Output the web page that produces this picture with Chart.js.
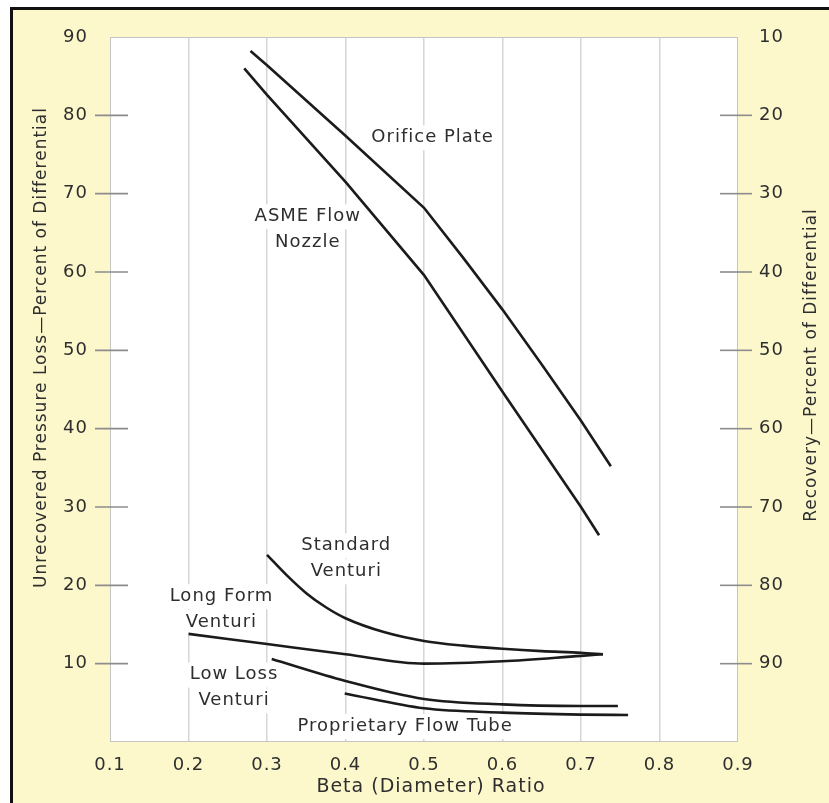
<!DOCTYPE html>
<html><head><meta charset="utf-8">
<script src="https://cdn.jsdelivr.net/npm/chart.js@4.4.0/dist/chart.umd.min.js"></script>
<style>
html,body{margin:0;padding:0;background:#fff;width:829px;height:803px;overflow:hidden}
#frame{position:absolute;left:10px;top:7px;width:900px;height:900px;border:3px solid #111;background:#fcf8cc}
#wrap{position:absolute;left:0;top:0;width:829px;height:803px}
</style></head><body>
<div id="frame"></div>
<div id="wrap"><canvas id="c" width="829" height="803"></canvas></div>
<script>
// ---- data (beta ratio vs unrecovered pressure loss, % of differential) ----
const orificeBeta  = [0.279, 0.3, 0.4, 0.5, 0.55, 0.6, 0.65, 0.7, 0.738];
const orificeLoss  = [88.2, 86.4, 77.4, 68.2, 61.8, 55.2, 48.2, 41.0, 35.2];
const asmeBeta     = [0.271, 0.3, 0.4, 0.5, 0.6, 0.7, 0.723];
const asmeLoss     = [86.0, 82.6, 71.5, 59.6, 44.7, 30.0, 26.4];
const standardBeta = [0.30, 0.325, 0.35, 0.375, 0.4, 0.45, 0.5, 0.55, 0.6, 0.65, 0.7, 0.728];
const standardLoss = [23.9, 21.3, 19.0, 17.2, 15.8, 14.0, 12.9, 12.3, 11.9, 11.6, 11.4, 11.2];
const longFormBeta = [0.2, 0.3, 0.4, 0.5, 0.6, 0.7, 0.728];
const longFormLoss = [13.8, 12.5, 11.2, 10.0, 10.3, 11.0, 11.2];
const lowLossBeta  = [0.306, 0.4, 0.5, 0.6, 0.7, 0.747];
const lowLossLoss  = [10.6, 7.8, 5.5, 4.8, 4.6, 4.6];
const propBeta     = [0.399, 0.5, 0.6, 0.7, 0.76];
const propLoss     = [6.2, 4.3, 3.75, 3.5, 3.45];

const xTicks      = [0.1, 0.2, 0.3, 0.4, 0.5, 0.6, 0.7, 0.8, 0.9];
const leftTicks   = [10, 20, 30, 40, 50, 60, 70, 80, 90];
const rightTicks  = [10, 20, 30, 40, 50, 60, 70, 80, 90];

const xTitle     = 'Beta (Diameter) Ratio';
const leftTitle  = 'Unrecovered Pressure Loss\u2014Percent of Differential';
const rightTitle = 'Recovery\u2014Percent of Differential';

// curve labels, anchored in data coordinates (beta, loss)
const curveLabels = [
  {lines: ['Orifice Plate'], beta: 0.511, loss: 77.2},
  {lines: ['ASME Flow', 'Nozzle'], beta: 0.352, loss: 65.45},
  {lines: ['Standard', 'Venturi'], beta: 0.401, loss: 23.45},
  {lines: ['Long Form', 'Venturi'], beta: 0.242, loss: 16.95},
  {lines: ['Low Loss', 'Venturi'], beta: 0.258, loss: 6.95},
  {lines: ['Proprietary Flow Tube'], beta: 0.476, loss: 2.05}
];

const FONT = "'DejaVu Sans', sans-serif";
const TEXT = '#2e2e2e';

function pts(xs, ys) { return xs.map((x, i) => ({x: x, y: ys[i]})); }
function ds(xs, ys, smooth) {
  return {data: pts(xs, ys), borderColor: '#1b1b1b', borderWidth: 2.6, pointRadius: 0,
          fill: false, tension: 0, cubicInterpolationMode: smooth ? 'monotone' : 'default'};
}

const deco = {
  id: 'deco',
  beforeDraw(chart) {
    const {ctx, chartArea: a} = chart;
    ctx.letterSpacing = '1px';
    ctx.save();
    ctx.fillStyle = '#ffffff';
    ctx.fillRect(a.left, a.top, a.right - a.left, a.bottom - a.top);
    ctx.restore();
  },
  beforeDatasetsDraw(chart) {
    const {ctx, chartArea: a, scales} = chart;
    ctx.save();
    // plot frame
    ctx.strokeStyle = '#c4c4c4'; ctx.lineWidth = 1;
    ctx.strokeRect(a.left + 0.5, a.top + 0.5, a.right - a.left - 1, a.bottom - a.top - 1);
    // tick marks crossing the plot edges
    ctx.strokeStyle = '#8c8c8c'; ctx.lineWidth = 1.6;
    leftTicks.forEach(v => {
      if (v >= 90) return;
      const y = scales.y.getPixelForValue(v);
      ctx.beginPath(); ctx.moveTo(a.left - 15, y); ctx.lineTo(a.left + 18, y); ctx.stroke();
    });
    rightTicks.forEach(v => {
      if (v <= 10) return;
      const y = scales.y2.getPixelForValue(v);
      ctx.beginPath(); ctx.moveTo(a.right - 18, y); ctx.lineTo(a.right + 14, y); ctx.stroke();
    });
    // curve labels with white backing
    ctx.font = '18px ' + FONT;
    ctx.letterSpacing = '1px';
    ctx.textAlign = 'center'; ctx.textBaseline = 'middle';
    const lh = 26;
    curveLabels.forEach(l => {
      const cx = scales.x.getPixelForValue(l.beta);
      const cy = scales.y.getPixelForValue(l.loss);
      const n = l.lines.length;
      l.lines.forEach((t, i) => {
        const y = cy + (i - (n - 1) / 2) * lh;
        const w = ctx.measureText(t).width;
        ctx.fillStyle = '#ffffff';
        ctx.fillRect(cx - w / 2 - 3, y - 12, w + 6, 25);
      });
      ctx.fillStyle = TEXT;
      l.lines.forEach((t, i) => {
        const y = cy + (i - (n - 1) / 2) * lh;
        ctx.fillText(t, cx, y);
      });
    });
    ctx.restore();
  },
  afterDraw(chart) {
    const {ctx} = chart;
    ctx.save();
    ctx.fillStyle = TEXT;
    ctx.letterSpacing = '1px';
    ctx.textAlign = 'center'; ctx.textBaseline = 'middle';
    ctx.font = '19px ' + FONT;
    ctx.fillText(xTitle, 431, 787);
    ctx.font = '17px ' + FONT;
    ctx.translate(42, 347.5); ctx.rotate(-Math.PI / 2);
    ctx.fillText(leftTitle, 0, 0);
    ctx.restore();
    ctx.save();
    ctx.fillStyle = TEXT;
    ctx.letterSpacing = '1px';
    ctx.textAlign = 'center'; ctx.textBaseline = 'middle';
    ctx.font = '17px ' + FONT;
    ctx.translate(812, 365); ctx.rotate(-Math.PI / 2);
    ctx.fillText(rightTitle, 0, 0);
    ctx.restore();
  }
};

new Chart(document.getElementById('c'), {
  type: 'line',
  data: {datasets: [
    ds(orificeBeta, orificeLoss, false),
    ds(asmeBeta, asmeLoss, false),
    ds(standardBeta, standardLoss, true),
    ds(longFormBeta, longFormLoss, true),
    ds(lowLossBeta, lowLossLoss, true),
    ds(propBeta, propLoss, true)
  ]},
  options: {
    responsive: false, animation: false, devicePixelRatio: 1,
    layout: {padding: {top: 37, left: 0, right: 0, bottom: 0}},
    plugins: {legend: {display: false}, tooltip: {enabled: false}},
    scales: {
      x: {
        type: 'linear', min: 0.1, max: 0.9,
        afterBuildTicks: s => { s.ticks = xTicks.map(v => ({value: v})); },
        afterFit: s => { s.height = 61; },
        ticks: {callback: v => v.toFixed(1), font: {family: FONT, size: 18}, color: TEXT, padding: 13, maxRotation: 0, autoSkip: false},
        grid: {drawTicks: false, lineWidth: 1.5,
               color: c => (c.tick && c.tick.value > 0.15 && c.tick.value < 0.85) ? '#d6d6d6' : 'rgba(0,0,0,0)'},
        border: {display: false}
      },
      y: {
        type: 'linear', position: 'left', min: 0, max: 90,
        afterBuildTicks: s => { s.ticks = leftTicks.map(v => ({value: v})); },
        afterFit: s => { s.width = 110; },
        ticks: {font: {family: FONT, size: 18}, color: TEXT, padding: 22},
        grid: {display: false, drawTicks: false},
        border: {display: false}
      },
      y2: {
        type: 'linear', position: 'right', min: 10, max: 100, reverse: true,
        afterBuildTicks: s => { s.ticks = rightTicks.map(v => ({value: v})); },
        afterFit: s => { s.width = 91; },
        ticks: {font: {family: FONT, size: 18}, color: TEXT, padding: 21},
        grid: {display: false, drawTicks: false},
        border: {display: false}
      }
    }
  },
  plugins: [deco]
});
</script>
</body></html>
